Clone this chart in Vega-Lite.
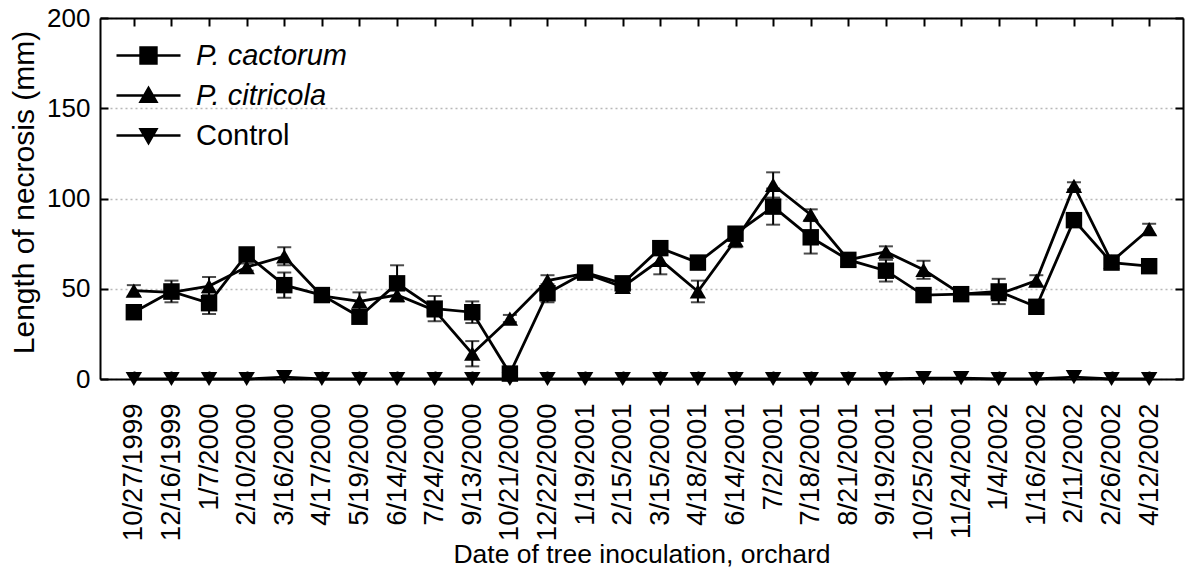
{
  "$schema": "https://vega.github.io/schema/vega-lite/v6.json",
  "width": 1083,
  "height": 361,
  "autosize": {"type": "none"},
  "padding": {"left": 100, "top": 18, "right": 2, "bottom": 192},
  "background": "white",
  "config": {
    "font": "Liberation Sans",
    "view": {"stroke": null},
    "axis": {
      "domainColor": "black", "domainWidth": 2,
      "tickColor": "black", "tickWidth": 2,
      "labelColor": "black", "titleColor": "black",
      "labelFont": "Liberation Sans", "titleFont": "Liberation Sans",
      "titleFontWeight": "normal"
    }
  },
  "data": {"values": [
    {"date":"10/27/1999","series":"Control","value":0,"err":0},
    {"date":"12/16/1999","series":"Control","value":0,"err":0},
    {"date":"1/7/2000","series":"Control","value":0,"err":0},
    {"date":"2/10/2000","series":"Control","value":0,"err":0},
    {"date":"3/16/2000","series":"Control","value":1,"err":0},
    {"date":"4/17/2000","series":"Control","value":0,"err":0},
    {"date":"5/19/2000","series":"Control","value":0,"err":0},
    {"date":"6/14/2000","series":"Control","value":0,"err":0},
    {"date":"7/24/2000","series":"Control","value":0,"err":0},
    {"date":"9/13/2000","series":"Control","value":0,"err":0},
    {"date":"10/21/2000","series":"Control","value":0,"err":0},
    {"date":"12/22/2000","series":"Control","value":0,"err":0},
    {"date":"1/19/2001","series":"Control","value":0,"err":0},
    {"date":"2/15/2001","series":"Control","value":0,"err":0},
    {"date":"3/15/2001","series":"Control","value":0,"err":0},
    {"date":"4/18/2001","series":"Control","value":0,"err":0},
    {"date":"6/14/2001","series":"Control","value":0,"err":0},
    {"date":"7/2/2001","series":"Control","value":0,"err":0},
    {"date":"7/18/2001","series":"Control","value":0,"err":0},
    {"date":"8/21/2001","series":"Control","value":0,"err":0},
    {"date":"9/19/2001","series":"Control","value":0,"err":0},
    {"date":"10/25/2001","series":"Control","value":0.5,"err":0},
    {"date":"11/24/2001","series":"Control","value":0.5,"err":0},
    {"date":"1/4/2002","series":"Control","value":0,"err":0},
    {"date":"1/16/2002","series":"Control","value":0,"err":0},
    {"date":"2/11/2002","series":"Control","value":1,"err":0},
    {"date":"2/26/2002","series":"Control","value":0,"err":0},
    {"date":"4/12/2002","series":"Control","value":0,"err":0},

    {"date":"10/27/1999","series":"P. citricola","value":49,"err":3},
    {"date":"12/16/1999","series":"P. citricola","value":48,"err":2},
    {"date":"1/7/2000","series":"P. citricola","value":51.5,"err":5},
    {"date":"2/10/2000","series":"P. citricola","value":62,"err":2},
    {"date":"3/16/2000","series":"P. citricola","value":68,"err":5},
    {"date":"4/17/2000","series":"P. citricola","value":46,"err":2},
    {"date":"5/19/2000","series":"P. citricola","value":43,"err":5},
    {"date":"6/14/2000","series":"P. citricola","value":46.5,"err":3},
    {"date":"7/24/2000","series":"P. citricola","value":38,"err":3},
    {"date":"9/13/2000","series":"P. citricola","value":14,"err":7},
    {"date":"10/21/2000","series":"P. citricola","value":33.5,"err":2},
    {"date":"12/22/2000","series":"P. citricola","value":54.5,"err":3},
    {"date":"1/19/2001","series":"P. citricola","value":58.5,"err":2},
    {"date":"2/15/2001","series":"P. citricola","value":51,"err":2},
    {"date":"3/15/2001","series":"P. citricola","value":66,"err":8},
    {"date":"4/18/2001","series":"P. citricola","value":48.5,"err":6},
    {"date":"6/14/2001","series":"P. citricola","value":77,"err":4},
    {"date":"7/2/2001","series":"P. citricola","value":107.5,"err":7},
    {"date":"7/18/2001","series":"P. citricola","value":91,"err":3},
    {"date":"8/21/2001","series":"P. citricola","value":66,"err":2},
    {"date":"9/19/2001","series":"P. citricola","value":70.5,"err":3},
    {"date":"10/25/2001","series":"P. citricola","value":60.5,"err":5},
    {"date":"11/24/2001","series":"P. citricola","value":47,"err":2},
    {"date":"1/4/2002","series":"P. citricola","value":47,"err":3},
    {"date":"1/16/2002","series":"P. citricola","value":54.5,"err":3},
    {"date":"2/11/2002","series":"P. citricola","value":107,"err":2},
    {"date":"2/26/2002","series":"P. citricola","value":65,"err":2},
    {"date":"4/12/2002","series":"P. citricola","value":83,"err":3},

    {"date":"10/27/1999","series":"P. cactorum","value":37,"err":3},
    {"date":"12/16/1999","series":"P. cactorum","value":48.5,"err":6},
    {"date":"1/7/2000","series":"P. cactorum","value":42,"err":6},
    {"date":"2/10/2000","series":"P. cactorum","value":69,"err":2},
    {"date":"3/16/2000","series":"P. cactorum","value":52,"err":7},
    {"date":"4/17/2000","series":"P. cactorum","value":46.5,"err":2},
    {"date":"5/19/2000","series":"P. cactorum","value":34.5,"err":2},
    {"date":"6/14/2000","series":"P. cactorum","value":53,"err":10},
    {"date":"7/24/2000","series":"P. cactorum","value":39,"err":7},
    {"date":"9/13/2000","series":"P. cactorum","value":37,"err":6},
    {"date":"10/21/2000","series":"P. cactorum","value":3,"err":0},
    {"date":"12/22/2000","series":"P. cactorum","value":47.5,"err":5},
    {"date":"1/19/2001","series":"P. cactorum","value":59,"err":2},
    {"date":"2/15/2001","series":"P. cactorum","value":53,"err":2},
    {"date":"3/15/2001","series":"P. cactorum","value":72.5,"err":3},
    {"date":"4/18/2001","series":"P. cactorum","value":64.5,"err":0},
    {"date":"6/14/2001","series":"P. cactorum","value":80.5,"err":2},
    {"date":"7/2/2001","series":"P. cactorum","value":95.5,"err":10},
    {"date":"7/18/2001","series":"P. cactorum","value":78.5,"err":9},
    {"date":"8/21/2001","series":"P. cactorum","value":66,"err":3},
    {"date":"9/19/2001","series":"P. cactorum","value":60,"err":6},
    {"date":"10/25/2001","series":"P. cactorum","value":46.5,"err":0},
    {"date":"11/24/2001","series":"P. cactorum","value":47,"err":2},
    {"date":"1/4/2002","series":"P. cactorum","value":48.5,"err":7},
    {"date":"1/16/2002","series":"P. cactorum","value":40,"err":0},
    {"date":"2/11/2002","series":"P. cactorum","value":88,"err":2},
    {"date":"2/26/2002","series":"P. cactorum","value":64.5,"err":3},
    {"date":"4/12/2002","series":"P. cactorum","value":62.5,"err":3}
  ]},
  "layer": [
    {
      "mark": {"type": "line", "color": "black", "strokeWidth": 2.8},
      "encoding": {
        "x": {"field": "date", "type": "ordinal",
          "scale": {"type": "point", "padding": 0.9, "domain": ["10/27/1999","12/16/1999","1/7/2000","2/10/2000","3/16/2000","4/17/2000","5/19/2000","6/14/2000","7/24/2000","9/13/2000","10/21/2000","12/22/2000","1/19/2001","2/15/2001","3/15/2001","4/18/2001","6/14/2001","7/2/2001","7/18/2001","8/21/2001","9/19/2001","10/25/2001","11/24/2001","1/4/2002","1/16/2002","2/11/2002","2/26/2002","4/12/2002"]},
          "axis": {"orient": "bottom", "labelAngle": -90, "labelFontSize": 27.5, "tickSize": -8, "labelPadding": 32, "labelOverlap": false, "title": "Date of tree inoculation, orchard", "titleFontSize": 26.5, "titlePadding": 1, "grid": false}},
        "y": {"field": "value", "type": "quantitative",
          "scale": {"domain": [0, 200], "nice": false},
          "axis": {"orient": "left", "values": [0, 50, 100, 150, 200], "tickSize": -8, "labelPadding": 18, "labelFontSize": 26, "title": "Length of necrosis (mm)", "titleFontSize": 30, "titlePadding": 7, "titleY": 174, "grid": true, "gridColor": "#b8b8b8", "gridDash": [2, 3], "gridWidth": 1.5}},
        "detail": {"field": "series"}
      }
    },
    {
      "transform": [{"filter": "datum.err > 0"}],
      "mark": {"type": "errorbar", "color": "black", "ticks": {"size": 14, "thickness": 2, "color": "black"}, "rule": {"strokeWidth": 2, "color": "black"}},
      "encoding": {
        "x": {"field": "date", "type": "ordinal", "axis": null},
        "y": {"field": "value", "type": "quantitative", "axis": null},
        "yError": {"field": "err"}
      }
    },
    {
      "mark": {"type": "point", "filled": true, "color": "black", "opacity": 1, "size": 270},
      "encoding": {
        "x": {"field": "date", "type": "ordinal", "axis": null},
        "y": {"field": "value", "type": "quantitative", "axis": null},
        "shape": {"field": "series", "type": "nominal",
          "scale": {"domain": ["P. cactorum", "P. citricola", "Control"], "range": ["square", "triangle-up", "triangle-down"]},
          "legend": null}
      }
    },
    {
      "transform": [{"filter": "datum.err < 0"}],
      "mark": {"type": "point", "filled": true, "color": "black", "opacity": 1, "size": 256},
      "encoding": {
        "x": {"field": "date", "type": "ordinal", "axis": null},
        "y": {"field": "value", "type": "quantitative", "axis": null},
        "shape": {"field": "series", "type": "nominal",
          "scale": {"domain": ["P. cactorum", "P. citricola", "Control"], "range": ["M-4,0H4M-1,-1H1V1H-1Z", "M-4,0H4M0,-0.95L1,0.8H-1Z", "M-4,0H4M0,0.95L1,-0.8H-1Z"]},
          "legend": {
            "orient": "none", "legendX": 34, "legendY": 23, "title": null,
            "symbolSize": 256, "symbolStrokeWidth": 2.4, "symbolStrokeColor": "black", "symbolFillColor": "black", "symbolOpacity": 1,
            "labelFontSize": 29, "labelOffset": 33, "rowPadding": 10, "padding": 0, "labelFont": "Liberation Sans", "labelColor": "black",
            "encoding": {
              "symbols": {"stroke": {"value": "black"}, "strokeWidth": {"value": 2.4}, "fill": {"value": "black"}},
              "labels": {"fontStyle": {"condition": {"test": "datum.value === 'Control'", "value": "normal"}, "value": "italic"}}
            }
          }}
      }
    },
    {
      "mark": {"type": "point", "opacity": 0},
      "encoding": {
        "x": {"field": "date", "type": "ordinal",
          "axis": {"orient": "top", "labels": false, "tickSize": -8, "title": null, "grid": false}},
        "y": {"field": "value", "type": "quantitative",
          "axis": {"orient": "right", "labels": false, "values": [0, 50, 100, 150, 200], "tickSize": -8, "title": null, "grid": false}}
      }
    }
  ],
  "resolve": {"axis": {"x": "independent", "y": "independent"}, "scale": {"shape": "independent"}}
}
